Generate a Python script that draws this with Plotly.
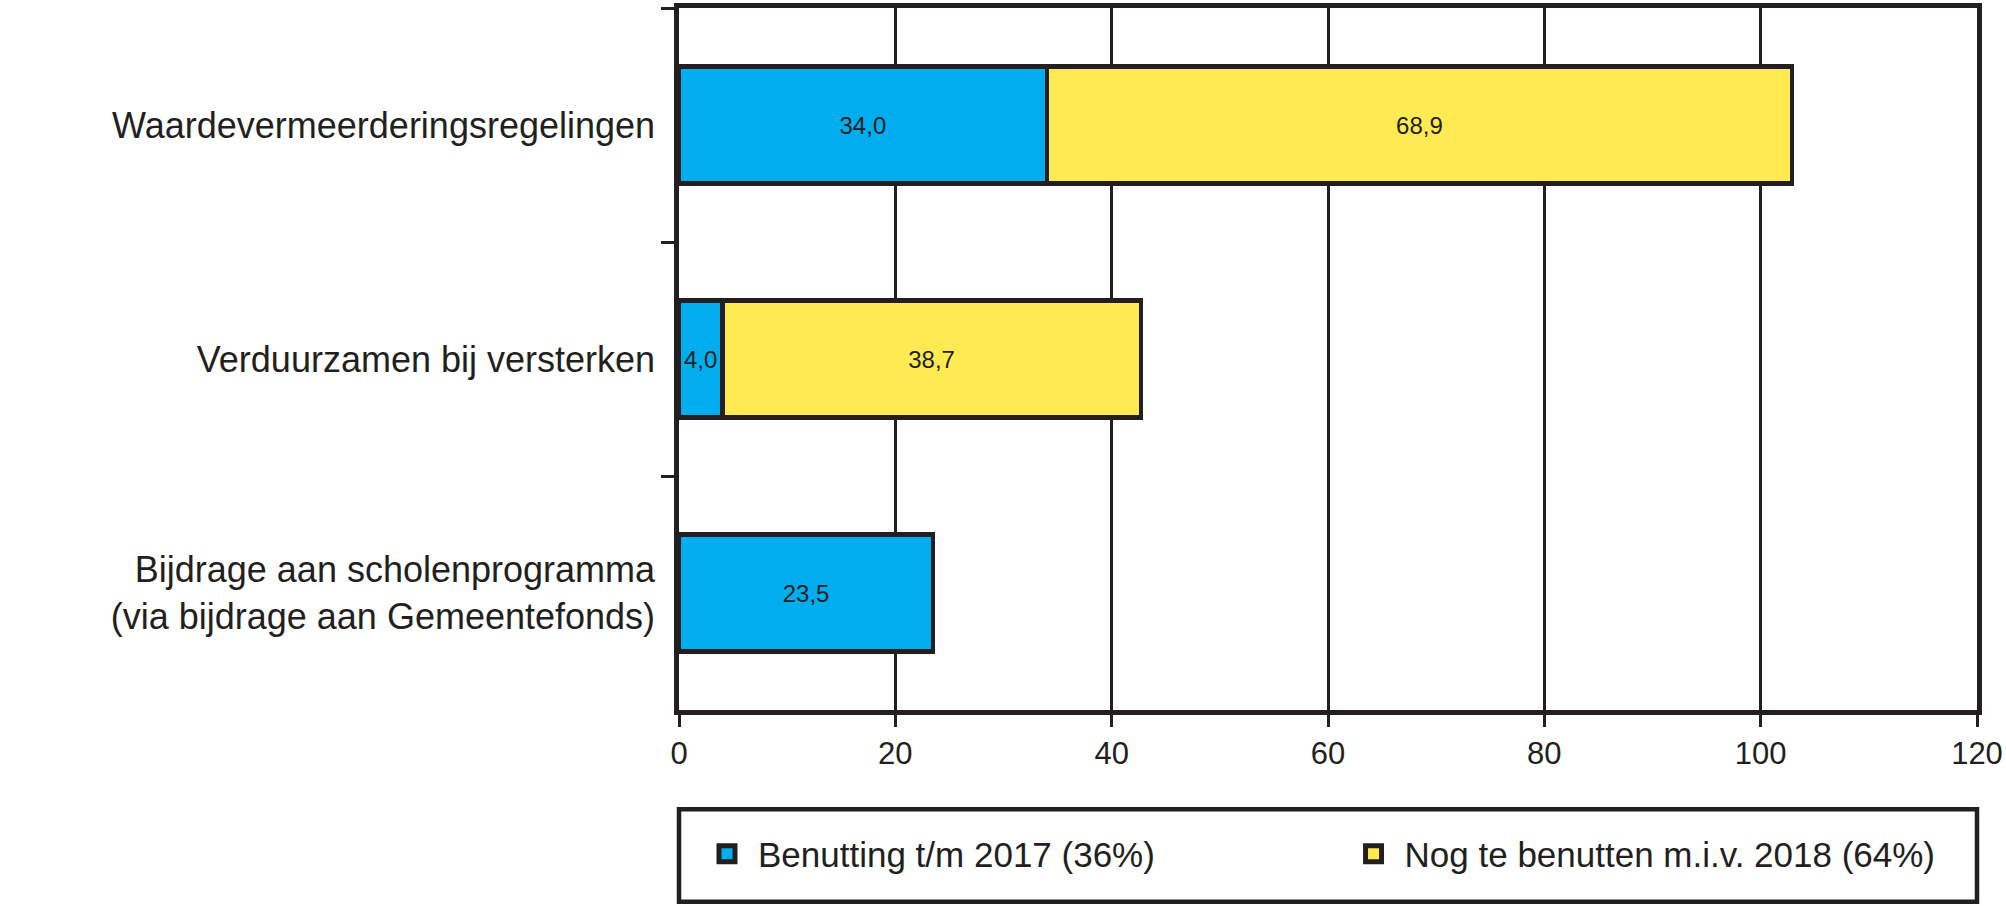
import plotly.graph_objects as go

categories = [
    "Waardevermeerderingsregelingen",
    "Verduurzamen bij versterken",
    "Bijdrage aan scholenprogramma<br>(via bijdrage aan Gemeentefonds)",
]
benutting = [34.0, 4.0, 23.5]
nog_te_benutten = [68.9, 38.7, None]
series_names = ["Benutting t/m 2017 (36%)", "Nog te benutten m.i.v. 2018 (64%)"]
x_ticks = [0, 20, 40, 60, 80, 100, 120]

INK = "#231f20"
BLUE = "#00aeef"
YELLOW = "#ffea52"
FONT = "Liberation Sans"

fig = go.Figure()
series = [(series_names[0], benutting, BLUE, "legend"),
          (series_names[1], nog_te_benutten, YELLOW, "legend2")]
for name, vals, col, leg in series:
    fig.add_trace(go.Bar(
        y=categories, x=vals, name=name, orientation="h",
        marker=dict(color=col, line=dict(color=INK, width=4.5)),
        texttemplate="%{x:.1f}", textposition="inside", insidetextanchor="middle",
        textangle=0, constraintext="none",
        textfont=dict(family=FONT, size=24, color=INK),
        hoverinfo="skip", showlegend=False,
    ))
# legend entries (square keys like the reference)
for name, vals, col, leg in series:
    fig.add_trace(go.Scatter(
        x=[None], y=[None], name=name, mode="markers", legend=leg,
        marker=dict(symbol="square", size=16, color=col, line=dict(color=INK, width=5)),
        hoverinfo="skip", showlegend=True,
    ))

legend_common = dict(
    orientation="h", yanchor="middle", y=-0.2051, xanchor="left",
    font=dict(family=FONT, size=35, color=INK),
    itemwidth=52, bgcolor="rgba(0,0,0,0)", borderwidth=0,
    itemsizing="trace",
)

fig.update_layout(
    barmode="stack", bargap=0.5,
    width=2006, height=906,
    margin=dict(l=679, r=28, t=3, b=196, pad=0),
    paper_bgcolor="white", plot_bgcolor="white",
    separators=",.",
    font=dict(family=FONT, color=INK),
    showlegend=True,
    legend=dict(x=0.0131, **legend_common),
    legend2=dict(x=0.5112, **legend_common),
    xaxis=dict(
        range=[0, 120], tickvals=x_ticks, ticktext=[str(v) for v in x_ticks],
        showgrid=True, gridcolor=INK, gridwidth=2.5,
        showline=True, linecolor=INK, linewidth=4.5, mirror=True,
        ticks="outside", ticklen=12, tickwidth=3, tickcolor=INK,
        tickfont=dict(family=FONT, size=31, color=INK),
        zeroline=False, fixedrange=True,
    ),
    yaxis=dict(
        autorange="reversed", type="category",
        showgrid=False,
        showline=True, linecolor=INK, linewidth=4.5, mirror=True,
        ticks="outside", ticklen=13, tickwidth=3, tickcolor=INK,
        tickson="boundaries",
        tickfont=dict(family=FONT, size=36, color=INK),
        ticklabelstandoff=12,
        zeroline=False, fixedrange=True,
    ),
    shapes=[dict(
        type="rect", xref="paper", yref="paper",
        x0=0, x1=1, y0=-0.1414, y1=-0.273,
        line=dict(color=INK, width=4.5), fillcolor="rgba(0,0,0,0)",
    )],
)

fig.write_html("out.html", config={"displayModeBar": False},
               post_script="document.body.style.margin='0';")
